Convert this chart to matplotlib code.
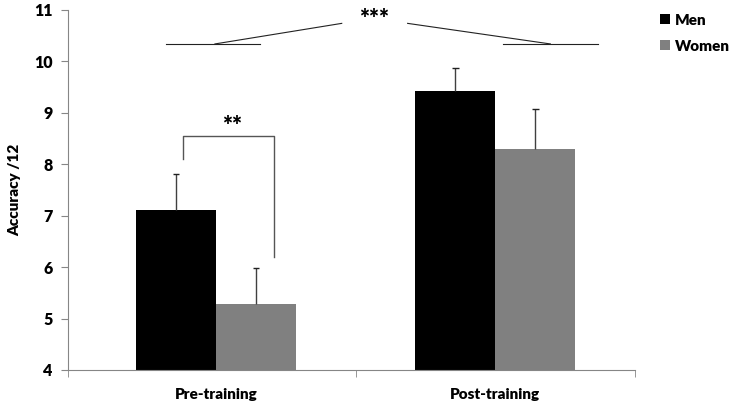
import matplotlib
matplotlib.use('Agg')
import matplotlib.pyplot as plt
import numpy as np

plt.rcParams['font.family'] = ['Lato', 'DejaVu Sans']

# data
groups = ['Pre-training', 'Post-training']
series = ['Men', 'Women']
men_mean = [7.12, 9.43]
men_err = [0.70, 0.44]
women_mean = [5.28, 8.29]
women_err = [0.71, 0.78]
colors = {'Men': '#000000', 'Women': '#808080'}

fig = plt.figure(figsize=(7.34, 4.08), dpi=100)
ax = fig.add_axes([68 / 734, 38 / 408, 567 / 734, 360 / 408])

x = np.arange(len(groups))
w = 0.286
cap = 0.012
for off, mean, err, name in [(-w / 2, men_mean, men_err, 'Men'),
                             (w / 2, women_mean, women_err, 'Women')]:
    pos = x + off
    ax.bar(pos, mean, w, color=colors[name], label=name)
    top = np.array(mean) + np.array(err)
    # upper error bars only
    ax.vlines(pos, mean, top, color='#404040', lw=1)
    ax.hlines(top, pos - cap, pos + cap, color='#202020', lw=1)

ax.set_ylim(4, 11)
ax.set_xlim(-0.53, 1.5)
ax.set_yticks(range(4, 12))
ax.set_xticks(x)
ax.set_xticklabels(groups, fontsize=11, fontweight='heavy')
ax.set_xticks([-0.53, 0.5, 1.5], minor=True)
ax.tick_params(axis='x', which='major', length=0, pad=13)
ax.tick_params(axis='x', which='minor', length=5, color='#868686')
ax.tick_params(axis='y', length=5, color='#868686', labelsize=11.5, pad=6)
for lab in ax.get_yticklabels():
    lab.set_fontweight('heavy')
ax.set_ylabel('Accuracy /12', fontsize=11, fontweight='heavy', labelpad=9)

for s in ['top', 'right']:
    ax.spines[s].set_visible(False)
for s in ['left', 'bottom']:
    ax.spines[s].set_color('#868686')

# significance: men vs women pre-training
ax.plot([-0.118, -0.118, 0.2075, 0.2075], [8.1, 8.55, 8.55, 6.2],
        color='#555555', lw=1)
ax.text(0.056, 8.74, '**', ha='center', va='center', fontsize=17, fontweight='heavy')

# significance: pre vs post
lc = '#222222'
ax.plot([-0.18, 0.157], [10.34, 10.34], color=lc, lw=0.8)
ax.plot([-0.004, 0.45], [10.34, 10.74], color=lc, lw=0.8)
ax.plot([0.686, 1.197], [10.74, 10.34], color=lc, lw=0.8)
ax.plot([1.027, 1.367], [10.34, 10.34], color=lc, lw=0.8)
ax.text(0.565, 10.83, '***', ha='center', va='center', fontsize=17, fontweight='heavy')

ax.legend(loc='upper left', bbox_to_anchor=(646 / 734, 1.0), bbox_transform=fig.transFigure,
          frameon=False, prop={'weight': 'heavy', 'size': 11},
          handlelength=0.65, handleheight=0.65, handletextpad=0.35, labelspacing=0.85)

fig.savefig('out.png', dpi=100)
